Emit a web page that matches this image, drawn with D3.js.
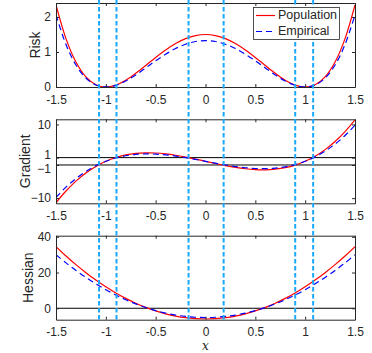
<!DOCTYPE html>
<html>
<head>
<meta charset="utf-8">
<script src="https://cdn.jsdelivr.net/npm/d3@7"></script>
<style>
html,body{margin:0;padding:0;background:#fff;}
svg{display:block;}
text{font-family:"Liberation Sans",Arial,Helvetica,sans-serif;fill:#262626;}
</style>
</head>
<body>
<svg id="chart" width="372" height="353"></svg>
<script>
// ---- data ----
const xs = [-1.5,-1.4,-1.3,-1.2,-1.1,-1.0,-0.9,-0.8,-0.7,-0.6,-0.5,-0.4,-0.3,-0.2,-0.1,0,
            0.1,0.2,0.3,0.4,0.5,0.6,0.7,0.8,0.9,1.0,1.1,1.2,1.3,1.4,1.5];

const riskPop = [2.344,1.382,0.714,0.290,0.066,0.000,0.054,0.194,0.390,0.614,0.844,1.058,1.242,1.382,1.470,1.500,
                 1.470,1.382,1.242,1.058,0.844,0.614,0.390,0.194,0.054,0.000,0.066,0.290,0.714,1.382,2.344];
const riskEmp = [2.060,1.215,0.628,0.256,0.058,0.002,0.048,0.172,0.345,0.545,0.752,0.935,1.100,1.222,1.300,1.325,
                 1.300,1.222,1.100,0.935,0.752,0.545,0.345,0.172,0.048,0.002,0.058,0.256,0.628,1.215,2.060];

const gradPop = [-11.25,-8.064,-5.382,-3.168,-1.386,0.000,1.026,1.728,2.142,2.304,2.250,2.016,1.638,1.152,0.594,0.000,
                 -0.594,-1.152,-1.638,-2.016,-2.250,-2.304,-2.142,-1.728,-1.026,0.000,1.386,3.168,5.382,8.064,11.25];
const gradEmp = [-9.80,-7.010,-4.680,-2.750,-1.200,0.000,0.890,1.500,1.860,2.000,1.950,1.750,1.420,1.000,0.515,0.000,
                 -0.515,-1.000,-1.420,-1.750,-1.950,-2.000,-1.860,-1.500,-0.890,0.000,1.200,2.750,4.680,7.010,9.80];

const hessPop = [34.50,29.28,24.42,19.92,15.78,12.00,8.58,5.52,2.82,0.48,-1.50,-3.12,-4.38,-5.28,-5.82,-6.00,
                 -5.82,-5.28,-4.38,-3.12,-1.50,0.48,2.82,5.52,8.58,12.00,15.78,19.92,24.42,29.28,34.50];
const hessEmp = [29.90,25.38,21.16,17.26,13.68,10.40,7.44,4.78,2.44,0.42,-1.30,-2.70,-3.80,-4.58,-5.04,-5.20,
                 -5.04,-4.58,-3.80,-2.70,-1.30,0.42,2.44,4.78,7.44,10.40,13.68,17.26,21.16,25.38,29.90];

const xTicks = [-1.5,-1,-0.5,0,0.5,1,1.5];
const xTickLabels = ["-1.5","-1","-0.5","0","0.5","1","1.5"];
const riskTicks = [0,1,2];
const gradTicks = [-10,-1,1,10];
const hessTicks = [0,20,40];
const gradRefLines = [-1,1];
const hessRefLines = [0];
const markerXs = [-1.068,-0.893,-0.17,0.182,0.9,1.08];
const seriesNames = ["Population","Empirical"];
const yLabels = ["Risk","Gradient","Hessian"];

// ---- layout ----
const svg = d3.select("#chart");
const axColor = "#262626";
const left = 56, right = 355;
const x = d3.scaleLinear().domain([-1.5,1.5]).range([left,right]);

const panels = [
  {top:3, bottom:87, domain:[0,2.4], ticks:riskTicks, pop:riskPop, emp:riskEmp, label:yLabels[0], labelX:36, refs:[]},
  {top:119.3, bottom:203.3, domain:[-11.4,11.4], ticks:gradTicks, pop:gradPop, emp:gradEmp, label:yLabels[1], labelX:26, refs:gradRefLines},
  {top:235.7, bottom:319.7, domain:[-6.4,40.6], ticks:hessTicks, pop:hessPop, emp:hessEmp, label:yLabels[2], labelX:29, refs:hessRefLines}
];

const tickLen = 3;

panels.forEach((p,i) => {
  const y = d3.scaleLinear().domain(p.domain).range([p.bottom,p.top]);
  p.y = y;
  const g = svg.append("g");
  const clipId = "clip"+i;
  svg.append("clipPath").attr("id",clipId).append("rect")
    .attr("x",left).attr("y",p.top).attr("width",right-left).attr("height",p.bottom-p.top);

  p.refs.forEach(v => {
    g.append("line").attr("x1",left).attr("x2",right).attr("y1",y(v)).attr("y2",y(v))
      .attr("stroke","#000").attr("stroke-width",1);
  });

  const line = d3.line().x((d,j)=>x(xs[j])).y(d=>y(d)).curve(d3.curveCatmullRom.alpha(0.5));
  g.append("path").datum(p.pop).attr("d",line).attr("fill","none")
    .attr("stroke","#ff0000").attr("stroke-width",1.2).attr("clip-path","url(#"+clipId+")");
  g.append("path").datum(p.emp).attr("d",line).attr("fill","none")
    .attr("stroke","#0000ff").attr("stroke-width",1.2).attr("stroke-dasharray","6,4")
    .attr("clip-path","url(#"+clipId+")");

  const axB = d3.axisBottom(x).tickValues(xTicks).tickSizeInner(-tickLen).tickSizeOuter(0)
    .tickPadding(8).tickFormat((d,j)=>xTickLabels[j]);
  const axT = d3.axisTop(x).tickValues(xTicks).tickSizeInner(-tickLen).tickSizeOuter(0).tickFormat("");
  const axL = d3.axisLeft(y).tickValues(p.ticks).tickSizeInner(-tickLen).tickSizeOuter(0)
    .tickPadding(5).tickFormat(d3.format("d"));
  const axR = d3.axisRight(y).tickValues(p.ticks).tickSizeInner(-tickLen).tickSizeOuter(0).tickFormat("");

  const gb = svg.append("g").attr("transform",`translate(0,${p.bottom})`).call(axB);
  const gt = svg.append("g").attr("transform",`translate(0,${p.top})`).call(axT);
  const gl = svg.append("g").attr("transform",`translate(${left},0)`).call(axL);
  const gr = svg.append("g").attr("transform",`translate(${right},0)`).call(axR);
  [gb,gt,gl,gr].forEach(a=>{
    a.selectAll(".domain").attr("stroke",axColor).attr("stroke-width",1);
    a.selectAll(".tick line").attr("stroke",axColor).attr("stroke-width",1);
    a.selectAll("text").attr("fill",axColor).style("font-size","12px")
      .style("font-family","'Liberation Sans',Arial,Helvetica,sans-serif");
  });
  if (i === 1) {
    // keep the close ±1 labels apart
    gl.selectAll(".tick").filter(d=>d===1).select("text").attr("dy","0.07em");
    gl.selectAll(".tick").filter(d=>d===-1).select("text").attr("dy","0.6em");
  }

  svg.append("text").attr("transform",`translate(${p.labelX},${(p.top+p.bottom)/2}) rotate(-90)`)
    .attr("text-anchor","middle").attr("dominant-baseline","middle")
    .style("font-size","14px").text(p.label);
});

markerXs.forEach(v=>{
  svg.append("line").attr("x1",x(v)).attr("x2",x(v)).attr("y1",0).attr("y2",panels[2].bottom)
    .attr("stroke","#1aa8ff").attr("stroke-width",2).attr("stroke-dasharray","4.5,2.5");
});

const lg = svg.append("g");
lg.append("rect").attr("x",253.5).attr("y",7.5).attr("width",86).attr("height",32)
  .attr("fill","#fff").attr("stroke",axColor).attr("stroke-width",0.8);
const legendItems = [{name:seriesNames[0],color:"#ff0000",dash:null,y:15.5},
                     {name:seriesNames[1],color:"#0000ff",dash:"6,4",y:31.5}];
legendItems.forEach(it=>{
  lg.append("line").attr("x1",256).attr("x2",275).attr("y1",it.y).attr("y2",it.y)
    .attr("stroke",it.color).attr("stroke-width",1.2).attr("stroke-dasharray",it.dash);
  lg.append("text").attr("x",278).attr("y",it.y).attr("dominant-baseline","middle")
    .style("font-size","12.5px").text(it.name);
});

svg.append("text").attr("x",(left+right)/2).attr("y",346).attr("text-anchor","middle")
  .attr("dominant-baseline","middle")
  .style("font-family","'DejaVu Serif','Liberation Serif',serif").style("font-style","italic")
  .style("font-size","12px").text("x");
</script>
</body>
</html>
